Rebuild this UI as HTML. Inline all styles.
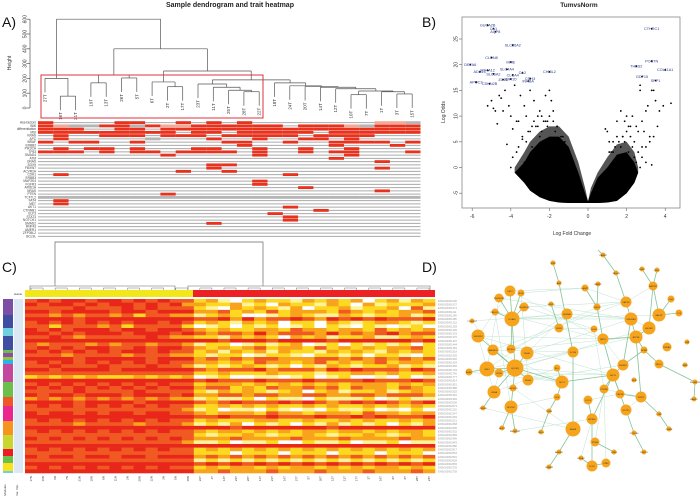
<!DOCTYPE html>
<html><head><meta charset="utf-8">
<style>
html,body{margin:0;padding:0;background:#fff;}
svg{display:block;font-family:"Liberation Sans",sans-serif;}
</style></head>
<body>
<svg id="fig" width="700" height="501" viewBox="0 0 700 501" xmlns="http://www.w3.org/2000/svg">
<rect x="0" y="0" width="700" height="501" fill="#fff"/>
<text x="230" y="7" font-size="7" font-weight="bold" text-anchor="middle" fill="#222">Sample dendrogram and trait heatmap</text>
<text x="2" y="27" font-size="14" fill="#111">A)</text>
<text x="422" y="27" font-size="14" fill="#111">B)</text>
<text x="2" y="272" font-size="14" fill="#111">C)</text>
<text x="422" y="272" font-size="14" fill="#111">D)</text>
<text x="579" y="7" font-size="6.5" font-weight="bold" text-anchor="middle" fill="#222">TumvsNorm</text>
<g id="gA"></g><g id="gB"></g><g id="gC"></g><g id="gD"></g>
</svg>
<script>
// ---------- DATA ----------
const leaves=['27T','16T','21T','19T','13T','26T','5T','6T','2T','17T','23T','11T','25T','28T','22T','18T','24T','20T','14T','12T','10T','7T','1T','3T','15T'];
function T(h,a,b){return {h:h,c:[a,b]};}
const tree=T(600,T(200,0,T(80,1,2)),T(400,T(223,T(170,3,4),T(203,5,6)),T(250,T(176,7,T(144,8,9)),T(190,T(162,10,T(140,11,T(120,12,T(110,13,14)))),T(170,15,T(150,16,T(145,17,T(140,18,T(130,19,T(115,T(90,20,21),T(110,22,T(95,23,24))))))))))));
const heightTicks=[0,100,200,300,400,500,600];
const traitNames=['Hsa-factors','BMI','differentiation','MSI','KRAS','APC','BRAF','ERBB2','PIK3CA','TP53','SMAD4','ATM','GNAS','SOX9','FBXW7','ACVR2A','CDH1','ERBB3','MAP2K4','FGFR3','ARID1A','NRAS','PTEN','TCF7L2','FAT4','MET','AKT1','CTNNB1','ELF3','STAT3','NOTCH1','SMAD2','RNF43','AMER1','ZFP36L2','BCL9L'];
const traitGrid=[
"r....rr..r.r.r........ppg","rpggrrgrpprrrrrr.rrrpgrrr","rrr..rr.rrrrrrrrrrrrrrrrr","rrrrrrrrr.rr.rrrrr.rrrrrr",
".r..rrr.rrr.rrrrr.rrrr...",".r.....g...r..r..rr.r....","r.rr..r.....rr..r..rrrr.r",".............r.....r...r.",
".r.rr.r...rr..r..r..r....","rrr.r.rr.rrrr.r..r.rr...r","........r.....r.....r....","...................r.....",
"......................r..","...........rr............","...........r..........r..",".........r..r............",
".r..............r........",".........................","..............r..........","..............r..........",
".................r.......","......................r..","........r................","ggggggggggggggggggggggggg",
".r.......................",".r.......................","................r........","..................r......",
"...............r.........","................r........","................r........","...........r.............",
".........................",".........................",".........................","........................."];
// Volcano
const xTicks=[-6,-4,-2,0,2,4];
const yTicks=[-5,0,5,10,15,20,25];
const envX=[-3.8,-3.3,-3,-2.5,-2,-1.5,-1,-0.5,-0.15,0,0.15,0.5,1,1.5,2,2.4,2.6];
const envTop=[-1,1,3,5,6,6,4,-1,-5,-6.6,-5,-2,0,2.5,3,1,-1];
const envBot=[-1,-3,-4.5,-5.8,-6.5,-6.8,-6.9,-6.9,-6.9,-6.9,-6.9,-6.9,-6.8,-6.5,-5,-3,-1];
const fringeTop=[0,3,5,7,8,8,6,1,-4,-6.6,-4,-1,2,4.5,5,3,0];
const ptX=[-5.2,-5,-4.8,-4.6,-4.3,-4.1,-3.8,-3.5,-3.3,-3,-2.8,-2.5,-2.2,-2,-1.9,-4.7,-4.4,-4,-3.7,-3.2,-2.9,-2.6,-2.3,-4.9,-4.5,-3.9,-3.6,-3.1,-2.7,-2.4,-2.1,-1.8,-1.6,-3.4,-4.2,-2.0,-1.7,-1.4,
 -3.9,-3.6,-3.4,-3.2,-3.0,-2.8,-2.6,-2.4,-2.2,-2.0,-1.8,-1.6,-1.4,-1.2,-3.7,-3.3,-2.9,-2.5,-2.1,-1.7,-1.3,-4.0,-3.5,-3.1,-2.7,-2.3,-1.9,-1.5,-1.1,-0.9,
 2.7,2.7,3.3,3.4,3.1,3.5,3.7,3.9,4.3,3.0,2.8,2.5,2.3,2.1,1.9,1.7,1.5,3.4,3.2,2.9,2.6,2.2,2.0,1.8,3.6,3.3,3.0,2.8,2.4,1.6,1.3,1.1,1.0,0.9,
 2.6,2.4,2.2,2.0,1.8,1.6,1.4,1.2,2.8,2.5,2.3,2.1,1.9,1.7,1.5,1.3,1.1,3.0,2.7,3.2];
const ptY=[12,13,11,14,15,12,16,14,12,15,13,11,14,15,13,8.5,11,10,9,10,8,10,9,11.5,13.5,7.5,9,7,8,7,9,11,8,5.5,4.5,3,2.5,5,
 2,4,6,5,7,9,8,10,9,10,9,8,6,5,3,1,4,6,8,7,6,0,-1,1,3,2,4,3,2,1,
 16,15,15,15,12,13,11,12,12.5,11,9,8,10,8,9,11,9,6,5,7,7,8,10,6,8,0.5,1,4,2,-1,3,5,7,7.5,
 3,5,6,7,6,5,4,3,2,1,4,3,5,4,6,5,3,4,0,6];
const geneNames=['GUCA2B','CA1','AQP8','SLC26A2','CLDN8','MME','SLC4A4','DEFA6','ADH1C','SLC6A2','MS4A12','CLCA4','KRT20','CA2','CHI3L2','APOC3','CDKN2B','ZG16','CDH3','INHBA','CTHRC1','POSTN','THBS2','COL11A1','GDF15','SPP1'];
const geneX=[-5.2,-4.9,-4.8,-3.9,-5.0,-4.0,-4.2,-6.1,-5.6,-4.9,-5.2,-3.9,-4.0,-3.4,-2.0,-5.8,-5.1,-4.4,-3.0,-3.1,3.3,3.3,2.5,4.0,2.8,3.5];
const geneY=[27.7,27.0,26.4,23.8,21.4,20.5,19.1,20.0,18.6,18.2,18.9,18.0,17.2,18.4,18.6,16.6,16.3,17.1,17.3,16.8,27.0,20.7,19.7,19.0,17.7,16.9];
// Heatmap C
const colCount=34;
const heatRows=[
"4545545545454423102322132323023132","5455454554545332231203221320312223","4444544454544421032321302231223041","5545555455455533423242333243232334",
"4434344342443312320012321132122312","5555455555555544535344543545454445","4545454545545423213230220321233212","4424443424444201202120120210210120",
"5454555455455432322332433233242323","5545455545554543443534443534345344","4454344444543322132320323122311232","5555555555555555455545555455555545",
"4344434344344312201212301202121202","4545455445455432323423324232323342","5454545455454423132313221323213232","4443444434443321220122102212022102",
"5555455555455534343443334434343434","4545454545454433232433234232342332","4454445444544312123212021321223121","5545555455555543444534443545444354",
"4444444444444422322232221223323223","2323232223232301200110120120010201","5555555555555545444544454444544454","4545454545454423332323232323332323",
"5454545454545534423243343424332432","4444544445444421323212302312231232","5455455545554533443443344334434443","3434343434343312112021102111201211",
"5555455554555543454445454345454345","4545454545454422323232232322323232","4444444444444312011021010211201020","5455454554554432333243323332433233",
"5555555555555544544454445445454445","4545454545454423222332232232322323","4444344443444312130212021312120213","5555555555555555545555555455555555",
"4545454545454432332323233233232332","4444444444444421223212232122321232","5454545454545433343333433343333433","4444444444444311201120021120112011",
"5555555555555555555555555555555555","4545454545454423232323232323232323","4444444444444422202220222022202220","5455455455455534343434343434343434",
"4444444444444412121212121212121212","5555555555555545454545454545454545","4545454545454423233232332323233232","5555555555555533433343334333433343"];
const sampleLabels=['17N','16N','6N','7N','23N','10N','8N','11N','2N','20N','12N','3N','5N','18N','22T','1T','14T','23T','26T','11T','21T','16T','27T','5T','20T','12T','13T','17T','2T','19T','9T','6T','28T','24T'];
const moduleSegs=[[299,315,'#7b4fa3'],[315,328,'#3f4ea0'],[328,336,'#6fd0e0'],[336,350,'#3f4ea0'],[350,353,'#6bbf4a'],[353,357,'#8d4ea3'],[357,360,'#8dc63f'],[360,364,'#29b6e6'],[364,382,'#c4479e'],[382,397,'#6bbf4a'],[397,406,'#ef5727'],[406,421,'#ec268f'],[421,435,'#f7941d'],[435,449,'#c8d62f'],[449,456,'#ed1c24'],[456,463,'#6bbf4a'],[463,471,'#f9e11d'],[471,473,'#6fd0e0']];
// Network D
const nodeX=[510,499,521,495,524,512,472,478,493,511,527,469,487,499,515,528,494,513,483,511,502,515,553,559,551,567,559,573,557,562,557,549,541,573,559,549,581,592,606,595,614,592,588,585,598,597,594,603,613,604,620,626,634,623,634,644,626,631,616,636,649,642,657,653,671,659,679,644,667,687,659,685,695,694,641,659,669,603];
const nodeY=[291,298,293,312,307,319,321,336,350,349,353,372,369,373,368,380,392,388,408,407,428,431,263,283,304,314,328,352,368,382,397,411,432,429,452,467,458,466,463,442,452,419,400,288,284,307,329,339,375,389,394,410,380,365,433,452,302,319,273,337,328,269,270,286,299,315,313,350,347,342,364,365,382,399,397,414,429,255];
const nodeR=[5,4,3,3,4,7,2,6,5,4,6,3,7,4,8,5,6,3,2,6,2,2,2,2,2,5,4,5,3,6,3,2,2,7,2,2,2,5,4,4,2,5,4,3,2,3,3,5,6,4,4,5,2,5,2,2,5,6,2,6,6,2,2,4,3,6,3,3,4,2,4,2,2,2,5,2,2,2];
const nodeNames=['SST2','SNORD96','RGS','PRELID1','SNORD50','DCAF6','C7ORF57','SNORD2','ANKRD9','RPS10','DNHD','ADAP','IER3','NT5E','UQCRQ','SNHG','LMNA','SNORD1','ZNRF4','BCKDK','APEX','SNORD47','IRF8','ABP','SNX20','MXRA8','RIN3','SCOB','ELL','SDC1','CD9','TGFB','LMO4','RASIB','ANKRD','CMBM2','HBXA2','CCDC','PPAT','PDSM','LINE1','AP3M1','LOC3','LAMP1','RAB32','PHF13','SLC6','NRP2','MGT1','PTPRB','CAPN2','GSTK1','TRIM','PHEND','CCDC80','DREC1','PAPSS','SNORA3','TAGLN','ATP5B','SNORD','LRRC','NELF','ARPPB','CHD','GALNT','CTS','SPRR','EPHA2','CAB','NOLC','RBM','SNORD21','RABP1','WNT2','LTBP','OSMR','CAMK2'];
const edgeA=[0,1,2,3,4,5,5,7,8,11,12,13,14,14,14,16,16,19,19,14,22,23,27,28,29,30,31,29,41,41,41,37,37,39,34,44,45,47,43,48,48,48,48,51,54,53,53,57,56,58,59,59,60,63,63,63,65,65,59,59,67,70,72,74,75,47,50,33,24];
const edgeB=[5,5,5,5,5,14,9,14,14,12,14,14,15,19,10,14,18,20,21,29,23,27,33,29,30,31,32,48,42,48,37,36,38,40,35,45,47,48,45,49,50,53,51,54,55,67,57,56,58,77,57,60,63,61,62,65,64,66,67,74,70,72,73,75,76,59,74,34,26];
const faintA=[5,14,7,8,10,5,12,0,4,16,9,15,19,17,1,3,7,11,2,6,13,18,21,10,14,5,8,12,9,4,0,0,1,6,7,13,3,2,25,26,43,45,46,49,51,36,38,39,56,57,47,42,14,12,8];
const faintB=[57,48,47,27,25,25,29,43,46,28,59,53,30,33,57,47,48,29,43,25,48,33,41,57,60,65,56,59,45,56,47,7,12,8,16,16,19,15,57,46,56,56,49,74,74,41,49,49,63,60,53,50,27,25,29];

// ---------- helpers ----------
const NS='http://www.w3.org/2000/svg';
function mk(parent,tag,attrs,name,inter){
  const el=document.createElementNS(NS,tag);
  for(const k in attrs) el.setAttribute(k,attrs[k]);
  
  
  parent.appendChild(el);return el;
}
function txt(parent,x,y,s,size,attrs,name){
  const a=Object.assign({x:x,y:y,'font-size':size,fill:'#333'},attrs||{});
  const t=mk(parent,'text',a,name,false);t.textContent=s;return t;
}

// ---------- Panel A ----------
const gA=document.getElementById('gA');
const hY=h=>108-h*0.148;
const leafX=i=>45+i*15.3;
mk(gA,'line',{x1:30,y1:hY(0),x2:30,y2:hY(600),stroke:'#555','stroke-width':0.7},'height-axis');
heightTicks.forEach(v=>{
  mk(gA,'line',{x1:27,y1:hY(v),x2:30,y2:hY(v),stroke:'#555','stroke-width':0.7},'height-tick');
  txt(gA,25,hY(v)+1.5,String(v),5,{'text-anchor':'middle',transform:`rotate(-90 25 ${hY(v)})`},'height-tick-label');
});
txt(gA,11,63,'Height',5,{'text-anchor':'middle',transform:'rotate(-90 11 63)'},'height-axis-title');
function drawTree(n){
  if(typeof n==='number') return {x:leafX(n),h:null,leaf:n};
  const a=drawTree(n.c[0]),b=drawTree(n.c[1]);
  [a,b].forEach(ch=>{
    let endY;
    if(ch.leaf!==undefined){
      endY=hY(n.h)+14;
      txt(gA,ch.x+1.5,endY+2,leaves[ch.leaf],4.5,{'text-anchor':'end',transform:`rotate(-90 ${ch.x+1.5} ${endY+2})`},'sample-label');
    } else endY=hY(ch.h);
    mk(gA,'line',{x1:ch.x,y1:hY(n.h),x2:ch.x,y2:endY,stroke:'#555','stroke-width':0.7},'dendrogram-branch');
  });
  mk(gA,'line',{x1:a.x,y1:hY(n.h),x2:b.x,y2:hY(n.h),stroke:'#555','stroke-width':0.7},'dendrogram-merge');
  return {x:(a.x+b.x)/2,h:n.h};
}
drawTree(tree);
mk(gA,'rect',{x:41,y:75,width:222,height:43,fill:'none',stroke:'#e03040','stroke-width':1},'highlight-box');
const cw=15.3, rh=3.25, cx0=38, ry0=121;
traitGrid.forEach((row,r)=>{
  const y=ry0+r*rh;
  mk(gA,'line',{x1:cx0,y1:y+rh/2,x2:cx0+25*cw,y2:y+rh/2,stroke:'#aaa','stroke-width':0.9},'trait-row-line');
  txt(gA,36,y+2.6,traitNames[r]||'',3.2,{'text-anchor':'end',fill:'#444'},'trait-label');
  for(let c=0;c<25;c++){
    const ch=row[c]||'.';
    if(ch==='.')continue;
    const col=ch==='r'?'#e8321e':ch==='p'?'#f4a898':'#b5b5b5';
    mk(gA,'rect',{x:cx0+c*cw,y:y+0.2,width:cw,height:rh-0.4,fill:col},'trait-cell');
  }
});
mk(gA,'path',{d:'M55 283 V242 H263 V283',fill:'none',stroke:'#666','stroke-width':0.7},'link-bracket');

// ---------- Panel B ----------
const gB=document.getElementById('gB');
const bx=v=>588+v*19.3, by=v=>167.5-v*5.14;
mk(gB,'rect',{x:462,y:17,width:218,height:191,fill:'none',stroke:'#888','stroke-width':0.8},'volcano-frame');
xTicks.forEach(v=>{
  mk(gB,'line',{x1:bx(v),y1:208,x2:bx(v),y2:211,stroke:'#666','stroke-width':0.6},'x-tick');
  txt(gB,bx(v),218,String(v),5,{'text-anchor':'middle'},'x-tick-label');
});
yTicks.forEach(v=>{
  mk(gB,'line',{x1:459,y1:by(v),x2:462,y2:by(v),stroke:'#666','stroke-width':0.6},'y-tick');
  txt(gB,456,by(v)+1.5,String(v),5,{'text-anchor':'middle',transform:`rotate(-90 456 ${by(v)})`},'y-tick-label');
});
txt(gB,572,235,'Log Fold Change',5,{'text-anchor':'middle'},'x-axis-title');
txt(gB,445,112,'Log Odds',5,{'text-anchor':'middle',transform:'rotate(-90 445 112)'},'y-axis-title');
function envPath(top,bot){
  let pd='';
  envX.forEach((v,i)=>{pd+=(i?'L':'M')+bx(v)+' '+by(top[i]);});
  for(let i=envX.length-1;i>=0;i--) pd+='L'+bx(envX[i])+' '+by(bot[i]);
  return pd+'Z';
}
mk(gB,'path',{d:envPath(fringeTop,envBot),fill:'#555'},'semi-dense-points');
mk(gB,'path',{d:envPath(envTop,envBot),fill:'#000'},'dense-points');
ptX.forEach((v,i)=>mk(gB,'circle',{cx:bx(v),cy:by(ptY[i]),r:0.9,fill:'#000'},'volcano-point'));
geneX.forEach((v,i)=>{
  mk(gB,'circle',{cx:bx(v),cy:by(geneY[i]),r:0.9,fill:'#000'},'gene-point');
  txt(gB,bx(v),by(geneY[i])+1.3,geneNames[i],3.8,{'text-anchor':'middle',fill:'#2b3a8f'},'gene-label');
});

// ---------- Panel C ----------
const gC=document.getElementById('gC');
const hx0=25, hcw=410/colCount, hy0=299, hrh=174/heatRows.length;
const pal=['#ffffff','#fff39a','#fdd820','#f9a21b','#f05a22','#e8261a'];
mk(gC,'path',{d:'M30 290 V286 H175 V290 M55 286 V283 M188 290 V286 H430 V290 M263 286 V283',fill:'none',stroke:'#666','stroke-width':0.6},'column-dendrogram');
for(let c=0;c<colCount-1;c+=2){const x=hx0+(c+0.5)*hcw;
  mk(gC,'path',{d:`M${x} 290 V288 H${x+hcw} V290`,fill:'none',stroke:'#777','stroke-width':0.5},'dendro-leaf-pair');}
mk(gC,'rect',{x:25,y:290,width:168,height:7,fill:'#f2e71a'},'status-normal-bar');
mk(gC,'rect',{x:193,y:290,width:242,height:7,fill:'#ed2024'},'status-tumor-bar');
txt(gC,22,295,'status',3,{'text-anchor':'end'},'status-label');
heatRows.forEach((row,r)=>{
  for(let c=0;c<colCount;c++){
    const v=+(row[c]||4);
    mk(gC,'rect',{x:hx0+c*hcw,y:hy0+r*hrh,width:hcw+0.3,height:hrh+0.3,fill:pal[v]},'heat-cell');
  }
  txt(gC,438,hy0+r*hrh+hrh*0.8,'ENSG0000'+(1000+r*37),2.6,{fill:'#999'},'gene-row-label');
});
moduleSegs.forEach(s=>mk(gC,'rect',{x:3,y:s[0],width:10,height:s[1]-s[0],fill:s[2]},'module-color'));
mk(gC,'rect',{x:14,y:299,width:9,height:174,fill:'#dde8f5'},'var-imp-bar');
txt(gC,6,490,'Modules',3,{'text-anchor':'middle',transform:'rotate(-90 6 490)'},'modules-label');
txt(gC,18,490,'Var. Imp.',3,{'text-anchor':'middle',transform:'rotate(-90 18 490)'},'varimp-label');
sampleLabels.forEach((s,i)=>{const x=hx0+(i+0.5)*hcw;
  txt(gC,x+1,476,s,3,{'text-anchor':'end',transform:`rotate(-90 ${x+1} 476)`},'sample-col-label');});

// ---------- Panel D ----------
const gD=document.getElementById('gD');
faintA.forEach((a,i)=>{const b=faintB[i];
  mk(gD,'line',{x1:nodeX[a],y1:nodeY[a],x2:nodeX[b],y2:nodeY[b],stroke:'#bfe3d2','stroke-width':0.5},'network-edge-weak');});
mk(gD,'line',{x1:603,y1:255,x2:598,y2:250,stroke:'#7fbf8f','stroke-width':0.8},'network-edge');
edgeA.forEach((a,i)=>{const b=edgeB[i];
  mk(gD,'line',{x1:nodeX[a],y1:nodeY[a],x2:nodeX[b],y2:nodeY[b],stroke:'#86c39a','stroke-width':0.8},'network-edge');});
nodeX.forEach((x,i)=>{
  mk(gD,'circle',{cx:x,cy:nodeY[i],r:nodeR[i]+0.5,fill:'#f7a41d'},'network-node');
  txt(gD,x,nodeY[i]+0.8,nodeNames[i],2.2,{'text-anchor':'middle',fill:'#333'},'node-label');
});
</script>
</body></html>
